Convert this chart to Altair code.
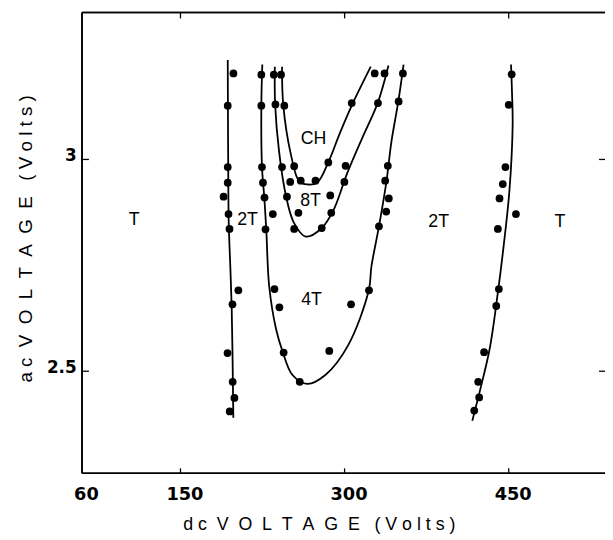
import altair as alt
import pandas as pd

# ---- data ----
# boundary curves (dc volts, ac volts), drawn in order
left_x = [193.2, 193.4, 193.6, 194.1, 195.5, 196.8, 197.5, 198.0, 198.3]
left_y = [3.235, 3.10, 3.00, 2.85, 2.75, 2.65, 2.55, 2.45, 2.39]

t4_x = [224.8, 223.9, 224.5, 226.6, 228.4, 231.1, 237.4, 243.4, 252.4, 265.9,
        282.4, 303.2, 322.1, 324.5, 331.4, 338.3, 342.8, 349.1, 353.9]
t4_y = [3.224, 3.127, 2.982, 2.910, 2.835, 2.700, 2.599, 2.546, 2.491, 2.470,
        2.491, 2.561, 2.691, 2.747, 2.842, 2.949, 3.042, 3.137, 3.224]

ch_x = [242.8, 244.0, 250.9, 258.4, 265.9, 274.9, 285.4, 295.5, 306.3, 323.9]
ch_y = [3.219, 3.127, 3.012, 2.949, 2.941, 2.945, 2.995, 3.061, 3.126, 3.219]

t8_x = [236.2, 236.5, 240.1, 246.4, 253.6, 264.4, 278.8, 289.6, 302.3, 316.0, 330.2, 340.1]
t8_y = [3.219, 3.130, 3.019, 2.914, 2.851, 2.818, 2.837, 2.879, 2.967, 3.050, 3.133, 3.222]

right_x = [452.1, 453.0, 453.6, 450.6, 444.6, 440.1, 432.6, 423.6, 416.7]
right_y = [3.224, 3.158, 3.082, 2.925, 2.779, 2.686, 2.553, 2.453, 2.383]

# measured points
dots_x = [198.4, 193.2, 193.2, 193.2, 189.4, 193.9, 194.8, 202.9, 197.5, 193.0, 197.7, 199.3, 195.0,
          223.9, 223.9, 224.5, 225.4, 226.8, 234.4, 227.7, 235.9, 240.4, 244.3, 259.0, 286.0, 305.9,
          322.3, 331.4, 338.0, 340.4, 337.1, 339.5, 349.4, 353.3,
          241.9, 244.9, 253.9, 259.9, 273.4, 285.1, 306.5, 327.5,
          235.3, 236.8, 242.8, 250.3, 247.3, 257.8, 253.9, 279.1, 286.9, 287.8, 299.8, 300.9, 330.5, 336.5,
          452.7, 450.0, 447.0, 444.6, 441.6, 456.6, 440.1, 441.0, 438.6, 427.5, 422.1, 423.0, 418.5]
dots_y = [3.203, 3.127, 2.982, 2.945, 2.912, 2.871, 2.836, 2.691, 2.658, 2.543, 2.475, 2.437, 2.405,
          3.200, 3.127, 2.982, 2.945, 2.910, 2.871, 2.835, 2.694, 2.651, 2.544, 2.475, 2.548, 2.658,
          2.691, 2.842, 2.877, 2.908, 2.950, 2.985, 3.137, 3.203,
          3.200, 3.127, 2.984, 2.950, 2.950, 2.993, 3.133, 3.203,
          3.200, 3.130, 2.982, 2.947, 2.912, 2.874, 2.836, 2.838, 2.915, 2.874, 2.947, 2.985, 3.133, 3.203,
          3.201, 3.129, 2.982, 2.942, 2.908, 2.871, 2.836, 2.694, 2.654, 2.545, 2.475, 2.438, 2.407]

# region labels
lab_text = ["T", "2T", "CH", "8T", "4T", "2T", "T"]
lab_x = [107.7, 211.3, 271.6, 268.9, 269.8, 386.0, 496.8]
lab_y = [2.856, 2.856, 3.047, 2.902, 2.667, 2.853, 2.853]

x_ticks = [60, 150, 300, 450]
y_ticks = [2.5, 3]

# ---- tables ----
rows = []
for name, xs, ys in [("left", left_x, left_y), ("4T", t4_x, t4_y), ("CH", ch_x, ch_y),
                     ("8T", t8_x, t8_y), ("right", right_x, right_y)]:
    for i, (a, b) in enumerate(zip(xs, ys)):
        rows.append({"x": a, "y": b, "curve": name, "idx": i})
curves = pd.DataFrame(rows)
dots = pd.DataFrame({"x": dots_x, "y": dots_y})
labels = pd.DataFrame({"x": lab_x, "y": lab_y, "t": lab_text})
xt = pd.DataFrame({"x": [v for v in x_ticks if v != 60]})
yt = pd.DataFrame({"y": y_ticks})

W, H = 530, 467
XS = alt.Scale(domain=[60, 538], nice=False, zero=False)
YS = alt.Scale(domain=[2.259, 3.347], nice=False, zero=False)

S = "\u00a0"
x_title = "d" + S + "c" + S * 2 + (S * 2).join("VOLTAGE") + S * 3 + S.join("(Volts)")
y_title = "a" + S + "c" + S * 2 + (S * 2).join("VOLTAGE") + S * 3 + S.join("(Volts)")

x_axis = alt.Axis(values=x_ticks, grid=False, ticks=False, tickSize=0, domain=False,
                  labelFont="DejaVu Sans", labelFontWeight="bold", labelFontSize=18,
                  labelColor="black", labelBaseline="alphabetic", labelPadding=27,
                  labelOffset=4, labelFlush=False,
                  title=x_title, titleFont="Liberation Sans", titleFontSize=18,
                  titleFontWeight="normal", titleColor="black",
                  titleX=102, titleY=57, titleAlign="left", titleBaseline="alphabetic")
y_axis = alt.Axis(values=y_ticks, format="~g", grid=False, ticks=False, tickSize=0, domain=False,
                  labelFont="DejaVu Sans", labelFontWeight="bold", labelFontSize=17,
                  labelColor="black", labelPadding=6, labelFlush=False,
                  labelBaseline="alphabetic", labelOffset=1,
                  title=y_title, titleFont="Liberation Sans", titleFontSize=19,
                  titleFontWeight="normal", titleColor="black", titleAngle=270,
                  titleX=-51, titleY=229, titleAlign="center", titleBaseline="alphabetic")

X = alt.X("x:Q", scale=XS, axis=x_axis)
Y = alt.Y("y:Q", scale=YS, axis=y_axis)

lines = alt.Chart(curves).mark_line(color="black", strokeWidth=1.8, interpolate="catmull-rom").encode(
    x=X, y=Y, detail="curve:N", order="idx:Q",
)

points = alt.Chart(dots).mark_circle(color="black", opacity=1, size=62).encode(x=X, y=Y)

text = alt.Chart(labels).mark_text(font="Liberation Sans", fontSize=18, color="black",
                                   align="center", baseline="middle").encode(
    x=X, y=Y, text="t:N",
)

RULE = dict(color="black", strokeWidth=1.3)
tick_bottom = alt.Chart(xt).mark_rule(**RULE).encode(x=X, y=alt.value(H), y2=alt.value(H - 5))
tick_top = alt.Chart(xt).mark_rule(**RULE).encode(x=X, y=alt.value(0), y2=alt.value(6))
tick_left = alt.Chart(yt).mark_rule(**RULE).encode(y=Y, x=alt.value(0), x2=alt.value(7))
tick_right = alt.Chart(yt).mark_rule(**RULE).encode(y=Y, x=alt.value(W), x2=alt.value(W - 6))

# plot frame (left, top, bottom; the right edge is cut off in the original)
FRAME = dict(color="black", strokeWidth=1.6)
frame_top = alt.Chart(yt).mark_rule(**FRAME).encode(
    x=alt.value(0), x2=alt.value(W), y=alt.value(0))
frame_bottom = alt.Chart(yt).mark_rule(**FRAME).encode(
    x=alt.value(0), x2=alt.value(W), y=alt.value(H))
frame_left = alt.Chart(yt).mark_rule(**FRAME).encode(
    x=alt.value(0), y=alt.value(0), y2=alt.value(H))

chart = alt.layer(lines, points, text, tick_bottom, tick_top, tick_left, tick_right,
                  frame_top, frame_bottom, frame_left).properties(
    width=W, height=H,
    padding={"left": 75, "top": 1, "right": 0, "bottom": 60},
    autosize=alt.AutoSizeParams(type="none"),
    background="white",
).configure_view(stroke=None)

chart.save("out.html", embed_options={"renderer": "svg", "actions": False})
